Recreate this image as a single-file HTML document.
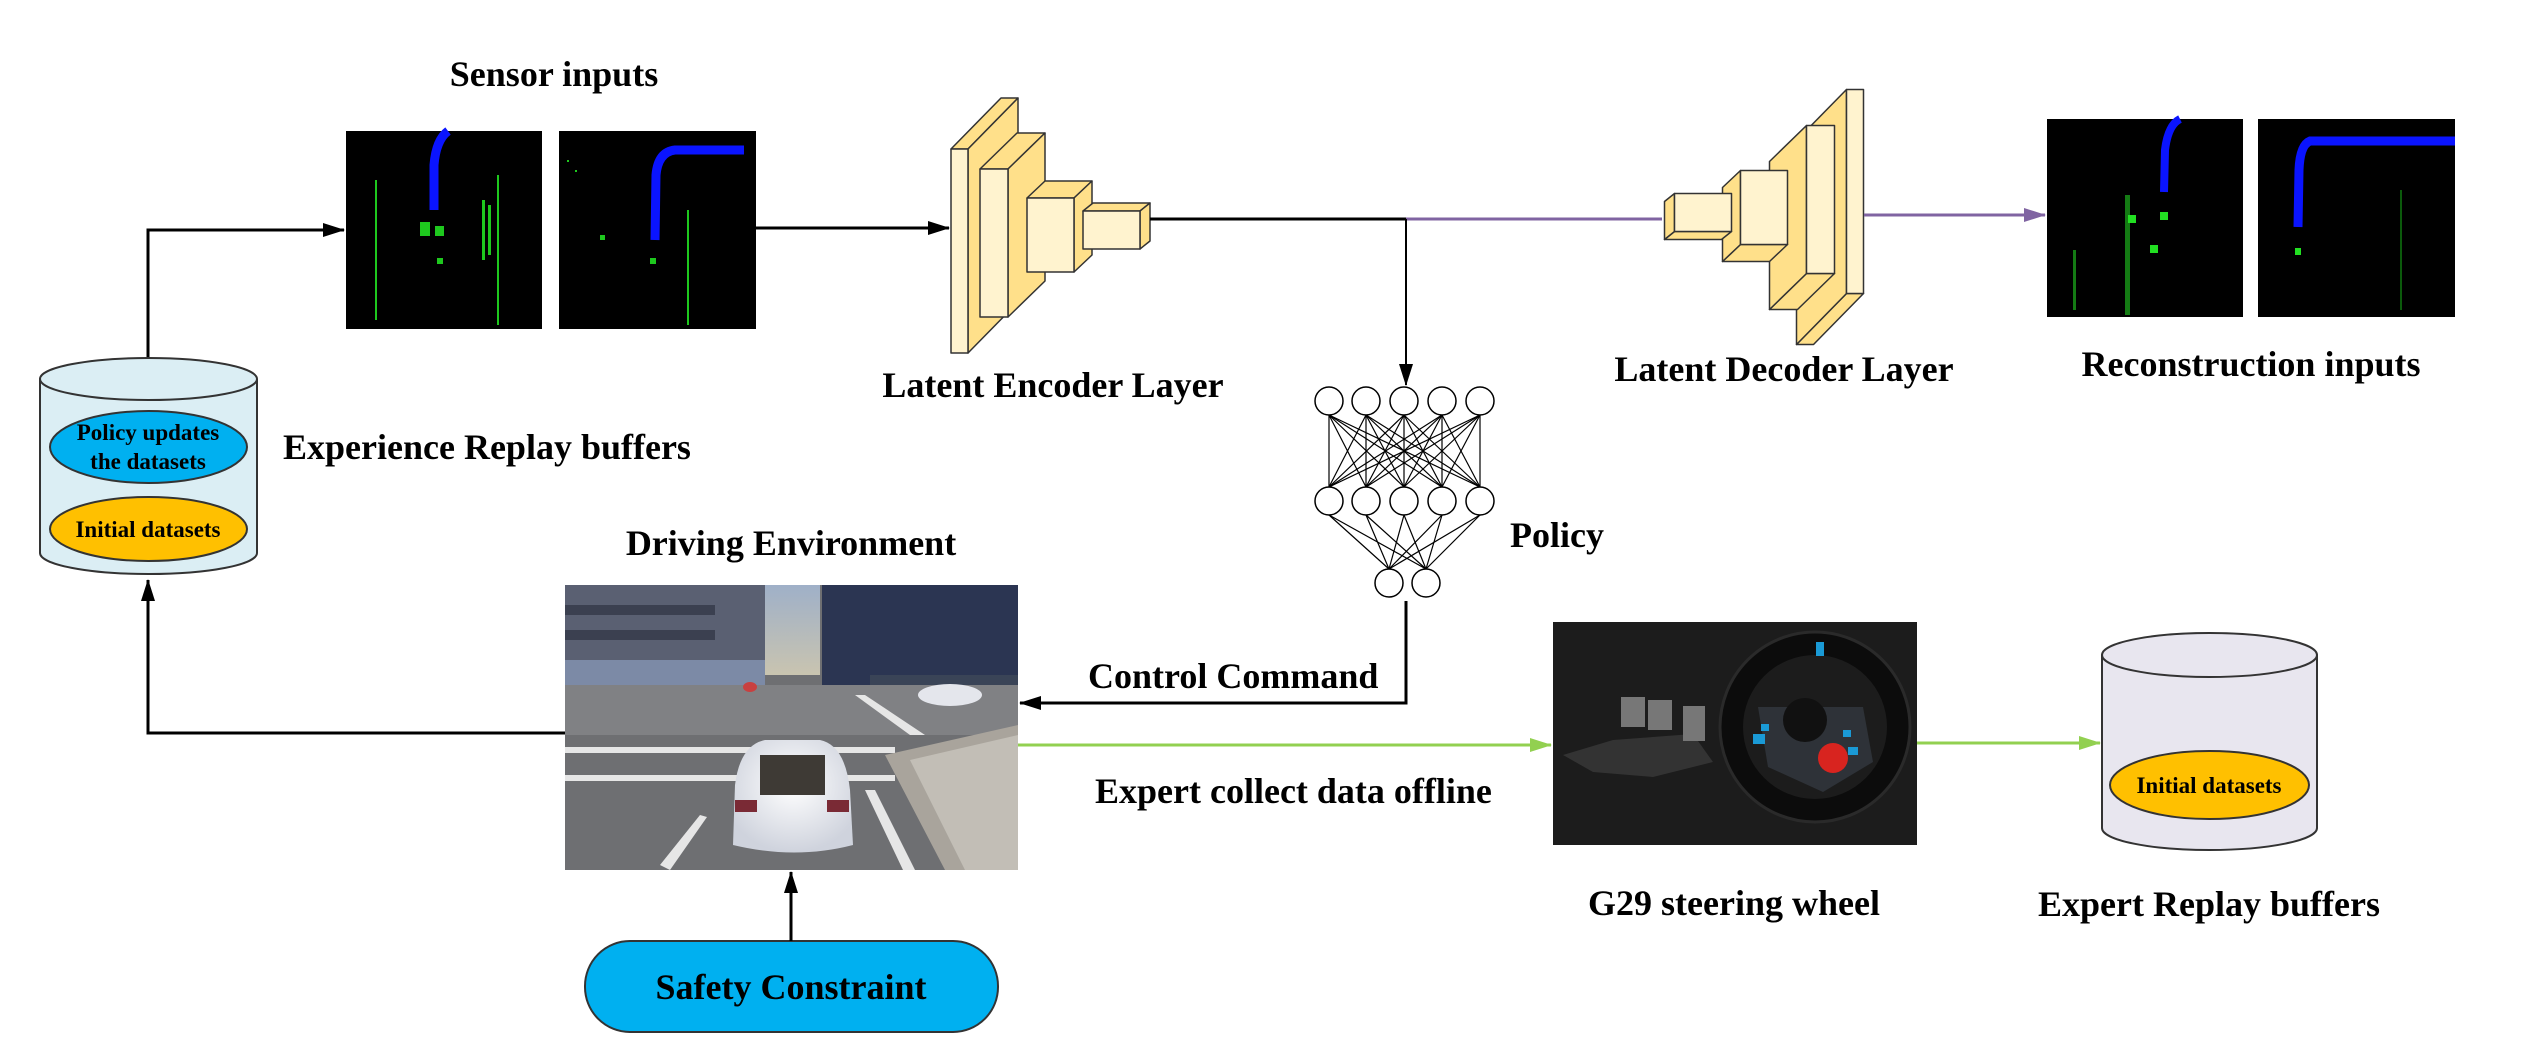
<!DOCTYPE html>
<html><head><meta charset="utf-8"><style>
html,body{margin:0;padding:0;background:#fff}
svg{display:block}
text{font-family:"Liberation Serif",serif;font-weight:bold;fill:#000}
</style></head><body>
<svg width="2541" height="1051" viewBox="0 0 2541 1051" xmlns="http://www.w3.org/2000/svg">
<defs>
<marker id="ak" markerWidth="22" markerHeight="14" refX="21" refY="7" orient="auto" markerUnits="userSpaceOnUse"><path d="M0,0 L22,7 L0,14 z" fill="#000"/></marker>
<marker id="ap" markerWidth="22" markerHeight="14" refX="21" refY="7" orient="auto" markerUnits="userSpaceOnUse"><path d="M0,0 L22,7 L0,14 z" fill="#8064a2"/></marker>
<marker id="ag" markerWidth="22" markerHeight="14" refX="21" refY="7" orient="auto" markerUnits="userSpaceOnUse"><path d="M0,0 L22,7 L0,14 z" fill="#92d050"/></marker>
<linearGradient id="sky" x1="0" y1="0" x2="0" y2="1"><stop offset="0" stop-color="#9fb0c8"/><stop offset="1" stop-color="#c9c4b0"/></linearGradient>
<radialGradient id="car" cx="0.5" cy="0.4" r="0.6"><stop offset="0" stop-color="#ffffff"/><stop offset="1" stop-color="#cfd3dd"/></radialGradient>
</defs>

<text x="554" y="86" font-size="36" text-anchor="middle">Sensor inputs</text>
<g>
<rect x="346" y="131" width="196" height="198" fill="#000"/>
<path d="M448,131 Q436,140 434,165 L434,210" stroke="#0a14ff" stroke-width="9" fill="none"/>
<g fill="#1ec81e">
<rect x="375" y="180" width="2" height="140"/><rect x="497" y="175" width="2" height="150"/>
<rect x="420" y="222" width="10" height="14"/><rect x="435" y="226" width="9" height="10"/><rect x="437" y="258" width="6" height="6"/>
<rect x="482" y="200" width="3" height="60"/><rect x="488" y="205" width="3" height="50"/>
</g>
<rect x="559" y="131" width="197" height="198" fill="#000"/>
<path d="M744,150 L675,150 Q658,152 656,175 L655,240" stroke="#0a14ff" stroke-width="9" fill="none"/>
<g fill="#1ec81e">
<rect x="687" y="210" width="2" height="115"/><rect x="650" y="258" width="6" height="6"/><rect x="600" y="235" width="5" height="5"/>
<rect x="567" y="160" width="2" height="2"/><rect x="575" y="170" width="2" height="2"/>
</g>
</g>

<g stroke="#333" stroke-width="1.5" stroke-linejoin="round">
<polygon points="951,149 968,149 1018,98 1001,98" fill="#ffe08a"/>
<polygon points="968,149 1018,98 1018,302 968,353" fill="#ffe08a"/>
<rect x="951" y="149" width="17" height="204" fill="#fff3cf"/>
<polygon points="980,169 1008,169 1045,133 1017,133" fill="#ffe08a"/>
<polygon points="1008,169 1045,133 1045,281 1008,317" fill="#ffe08a"/>
<rect x="980" y="169" width="28" height="148" fill="#fff3cf"/>
<polygon points="1027,198 1074,198 1092,181 1045,181" fill="#ffe08a"/>
<polygon points="1074,198 1092,181 1092,255 1074,272" fill="#ffe08a"/>
<rect x="1027" y="198" width="47" height="74" fill="#fff3cf"/>
<polygon points="1083,211 1140,211 1150,203 1093,203" fill="#ffe08a"/>
<polygon points="1140,211 1150,203 1150,241 1140,249" fill="#ffe08a"/>
<rect x="1083" y="211" width="57" height="38" fill="#fff3cf"/>
</g>
<g transform="translate(1764,217) rotate(180) translate(-1050.5,-225.5)" stroke="#333" stroke-width="1.5" stroke-linejoin="round">
<polygon points="951,149 968,149 1018,98 1001,98" fill="#ffe08a"/>
<polygon points="968,149 1018,98 1018,302 968,353" fill="#ffe08a"/>
<rect x="951" y="149" width="17" height="204" fill="#fff3cf"/>
<polygon points="980,169 1008,169 1045,133 1017,133" fill="#ffe08a"/>
<polygon points="1008,169 1045,133 1045,281 1008,317" fill="#ffe08a"/>
<rect x="980" y="169" width="28" height="148" fill="#fff3cf"/>
<polygon points="1027,198 1074,198 1092,181 1045,181" fill="#ffe08a"/>
<polygon points="1074,198 1092,181 1092,255 1074,272" fill="#ffe08a"/>
<rect x="1027" y="198" width="47" height="74" fill="#fff3cf"/>
<polygon points="1083,211 1140,211 1150,203 1093,203" fill="#ffe08a"/>
<polygon points="1140,211 1150,203 1150,241 1140,249" fill="#ffe08a"/>
<rect x="1083" y="211" width="57" height="38" fill="#fff3cf"/>
</g>
<text x="1053" y="397" font-size="36" text-anchor="middle">Latent Encoder Layer</text>
<text x="1784" y="381" font-size="36" text-anchor="middle">Latent Decoder Layer</text>

<rect x="2047" y="119" width="196" height="198" fill="#000"/>
<path d="M2180,119 Q2168,125 2165,150 L2164,192" stroke="#0a14ff" stroke-width="8" fill="none"/>
<g fill="#1a9a1a" opacity="0.8"><rect x="2125" y="195" width="5" height="120"/><rect x="2073" y="250" width="3" height="60"/></g>
<rect x="2128" y="215" width="8" height="8" fill="#22e022"/><rect x="2150" y="245" width="8" height="8" fill="#22e022"/><rect x="2160" y="212" width="8" height="8" fill="#22e022"/>
<rect x="2258" y="119" width="197" height="198" fill="#000"/>
<path d="M2455,141 L2310,141 Q2300,145 2299,170 L2298,227" stroke="#0a14ff" stroke-width="9" fill="none"/>
<rect x="2295" y="248" width="6" height="7" fill="#22e022"/>
<rect x="2400" y="190" width="2" height="120" fill="#0b5a0b"/>
<text x="2251" y="376" font-size="36" text-anchor="middle">Reconstruction inputs</text>

<g fill="none" stroke-width="3">
<polyline points="148,357 148,230 344,230" stroke="#000" marker-end="url(#ak)"/>
<line x1="756" y1="228" x2="949" y2="228" stroke="#000" marker-end="url(#ak)"/>
<line x1="1150" y1="219" x2="1406" y2="219" stroke="#000"/>
<line x1="1406" y1="219" x2="1662" y2="219" stroke="#8064a2"/>
<line x1="1406" y1="219" x2="1406" y2="385" stroke="#000" stroke-width="2" marker-end="url(#ak)"/>
<line x1="1864" y1="215" x2="2045" y2="215" stroke="#8064a2" marker-end="url(#ap)"/>
</g>

<g stroke="#000" stroke-width="1.2">
<line x1="1329" y1="415" x2="1329" y2="487"/><line x1="1329" y1="415" x2="1366" y2="487"/><line x1="1329" y1="415" x2="1404" y2="487"/><line x1="1329" y1="415" x2="1442" y2="487"/><line x1="1329" y1="415" x2="1480" y2="487"/>
<line x1="1366" y1="415" x2="1329" y2="487"/><line x1="1366" y1="415" x2="1366" y2="487"/><line x1="1366" y1="415" x2="1404" y2="487"/><line x1="1366" y1="415" x2="1442" y2="487"/><line x1="1366" y1="415" x2="1480" y2="487"/>
<line x1="1404" y1="415" x2="1329" y2="487"/><line x1="1404" y1="415" x2="1366" y2="487"/><line x1="1404" y1="415" x2="1404" y2="487"/><line x1="1404" y1="415" x2="1442" y2="487"/><line x1="1404" y1="415" x2="1480" y2="487"/>
<line x1="1442" y1="415" x2="1329" y2="487"/><line x1="1442" y1="415" x2="1366" y2="487"/><line x1="1442" y1="415" x2="1404" y2="487"/><line x1="1442" y1="415" x2="1442" y2="487"/><line x1="1442" y1="415" x2="1480" y2="487"/>
<line x1="1480" y1="415" x2="1329" y2="487"/><line x1="1480" y1="415" x2="1366" y2="487"/><line x1="1480" y1="415" x2="1404" y2="487"/><line x1="1480" y1="415" x2="1442" y2="487"/><line x1="1480" y1="415" x2="1480" y2="487"/>
<line x1="1329" y1="515" x2="1389" y2="569"/><line x1="1329" y1="515" x2="1426" y2="569"/>
<line x1="1366" y1="515" x2="1389" y2="569"/><line x1="1366" y1="515" x2="1426" y2="569"/>
<line x1="1404" y1="515" x2="1389" y2="569"/><line x1="1404" y1="515" x2="1426" y2="569"/>
<line x1="1442" y1="515" x2="1389" y2="569"/><line x1="1442" y1="515" x2="1426" y2="569"/>
<line x1="1480" y1="515" x2="1389" y2="569"/><line x1="1480" y1="515" x2="1426" y2="569"/>
</g>
<g fill="#fff" stroke="#000" stroke-width="1.5">
<circle cx="1329" cy="401" r="14"/><circle cx="1366" cy="401" r="14"/><circle cx="1404" cy="401" r="14"/><circle cx="1442" cy="401" r="14"/><circle cx="1480" cy="401" r="14"/>
<circle cx="1329" cy="501" r="14"/><circle cx="1366" cy="501" r="14"/><circle cx="1404" cy="501" r="14"/><circle cx="1442" cy="501" r="14"/><circle cx="1480" cy="501" r="14"/>
<circle cx="1389" cy="583" r="14"/><circle cx="1426" cy="583" r="14"/>
</g>
<text x="1510" y="547" font-size="36">Policy</text>

<g stroke="#333" stroke-width="2">
<path d="M40,379 L40,553 A108.5,21 0 0 0 257,553 L257,379" fill="#dbeef4"/>
<ellipse cx="148.5" cy="379" rx="108.5" ry="21" fill="#dbeef4"/>
<ellipse cx="148.5" cy="447" rx="98.5" ry="36" fill="#00b0f0"/>
<ellipse cx="148.5" cy="529" rx="98.5" ry="32" fill="#ffc000"/>
</g>
<text x="148" y="440" font-size="23" text-anchor="middle">Policy updates</text>
<text x="148" y="469" font-size="23" text-anchor="middle">the datasets</text>
<text x="148" y="537" font-size="23" text-anchor="middle">Initial datasets</text>
<text x="283" y="459" font-size="36">Experience Replay buffers</text>

<text x="791" y="555" font-size="36" text-anchor="middle">Driving Environment</text>
<svg x="565" y="585" width="453" height="285" viewBox="0 0 453 285">
<rect width="453" height="285" fill="#6e6f72"/>
<rect x="195" y="0" width="60" height="90" fill="url(#sky)"/>
<rect x="0" y="0" width="200" height="100" fill="#5a6072"/>
<rect x="0" y="20" width="150" height="10" fill="#3b4050"/><rect x="0" y="45" width="150" height="10" fill="#3b4050"/>
<rect x="0" y="75" width="200" height="25" fill="#7c8aa6"/>
<rect x="257" y="0" width="196" height="105" fill="#2b3552"/>
<rect x="305" y="90" width="148" height="20" fill="#3a4457"/>
<rect x="0" y="100" width="453" height="50" fill="#808184"/>
<rect x="0" y="162" width="330" height="6" fill="#e6e6e6"/>
<rect x="0" y="190" width="330" height="6" fill="#e6e6e6"/>
<polygon points="290,110 300,110 360,150 345,150" fill="#e6e6e6"/>
<polygon points="320,170 453,140 453,285 380,285" fill="#a9a49c"/>
<polygon points="345,175 453,150 453,285 400,285" fill="#c2beb6"/>
<polygon points="95,280 135,230 142,232 105,285" fill="#e6e6e6"/>
<polygon points="300,205 310,205 350,285 338,285" fill="#e6e6e6"/>
<ellipse cx="385" cy="110" rx="32" ry="11" fill="#e4e6ec"/>
<ellipse cx="185" cy="102" rx="7" ry="5" fill="#c84040"/>
<path d="M170,200 Q175,160 200,155 L255,155 Q280,160 285,205 L288,260 Q230,275 168,260 Z" fill="url(#car)"/>
<rect x="195" y="170" width="65" height="40" fill="#3e3a35"/>
<rect x="170" y="215" width="22" height="12" fill="#7a2a35"/><rect x="262" y="215" width="22" height="12" fill="#7a2a35"/>
</svg>

<rect x="585" y="941" width="413" height="91" rx="45" ry="45" fill="#00b0f0" stroke="#333" stroke-width="2"/>
<text x="791" y="999" font-size="36" text-anchor="middle">Safety Constraint</text>

<g fill="none" stroke-width="3">
<polyline points="565,733 148,733 148,580" stroke="#000" marker-end="url(#ak)"/>
<line x1="791" y1="941" x2="791" y2="872" stroke="#000" marker-end="url(#ak)"/>
<polyline points="1406,601 1406,703 1020,703" stroke="#000" marker-end="url(#ak)"/>
<line x1="1018" y1="745" x2="1551" y2="745" stroke="#92d050" marker-end="url(#ag)"/>
<line x1="1917" y1="743" x2="2100" y2="743" stroke="#92d050" marker-end="url(#ag)"/>
</g>
<text x="1088" y="688" font-size="36">Control Command</text>
<text x="1095" y="803" font-size="36">Expert collect data offline</text>

<svg x="1553" y="622" width="364" height="223" viewBox="0 0 364 223">
<rect width="364" height="223" fill="#1c1c1c"/>
<polygon points="10,133 60,118 140,112 160,140 100,155 40,150" fill="#333"/>
<rect x="68" y="75" width="24" height="30" fill="#777"/><rect x="95" y="78" width="24" height="30" fill="#777"/><rect x="130" y="84" width="22" height="35" fill="#777"/>
<circle cx="262" cy="105" r="95" fill="#0c0c0c" stroke="#2a2a2a" stroke-width="3"/>
<circle cx="262" cy="105" r="72" fill="#1c1c1c"/>
<polygon points="205,85 310,85 320,140 270,170 215,145" fill="#2e3238"/>
<circle cx="252" cy="98" r="22" fill="#111"/>
<rect x="263" y="20" width="8" height="14" fill="#1a9ad6"/>
<circle cx="280" cy="136" r="15" fill="#d8241f"/>
<rect x="208" y="102" width="8" height="7" fill="#1a9ad6"/><rect x="290" y="108" width="8" height="7" fill="#1a9ad6"/>
<rect x="200" y="112" width="12" height="10" fill="#1a9ad6"/><rect x="295" y="125" width="10" height="8" fill="#1a9ad6"/>
</svg>
<text x="1734" y="915" font-size="36" text-anchor="middle">G29 steering wheel</text>

<g stroke="#333" stroke-width="2">
<path d="M2102,655 L2102,828 A107.5,22 0 0 0 2317,828 L2317,655" fill="#e8e6ef"/>
<ellipse cx="2209.5" cy="655" rx="107.5" ry="22" fill="#e8e6ef"/>
<ellipse cx="2209.5" cy="785" rx="99.5" ry="34" fill="#ffc000"/>
</g>
<text x="2209" y="793" font-size="23" text-anchor="middle">Initial datasets</text>
<text x="2209" y="916" font-size="36" text-anchor="middle">Expert Replay buffers</text>
</svg>
</body></html>
